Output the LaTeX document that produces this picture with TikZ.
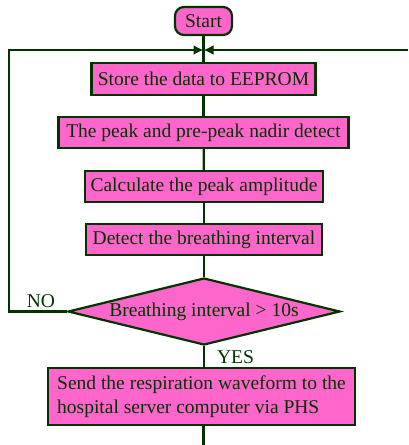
\documentclass[tikz,border=0pt]{standalone}
\usepackage{fontspec}
\setmainfont{Liberation Serif}
\usetikzlibrary{arrows.meta, shapes.geometric}
\definecolor{flowpink}{RGB}{255,102,204}
\definecolor{flowgreen}{RGB}{0,51,0}

\begin{document}
\begin{tikzpicture}[x=1pt, y=1pt,
        every node/.style={font=\fontsize{19.5}{24}\selectfont, text=flowgreen},
        procbox/.style={draw=flowgreen, fill=flowpink, line width=2.2pt, inner sep=0pt, minimum height=31},
        flowline/.style={draw=flowgreen, line width=2.2pt},
        flowarrow/.style={-{Latex[length=10pt, width=10pt]}}]

        \useasboundingbox (0,0) rectangle (408,-445);

        \node[procbox, rounded corners=9pt, minimum width=57, minimum height=28] (start) at (203.5,-21) {Start};
        \node[procbox, minimum width=224, minimum height=32] (store) at (203.5,-79) {Store the data to EEPROM};
        \node[procbox, minimum width=290] (peak) at (203.5,-132.5) {The peak and pre-peak nadir detect};
        \node[procbox, minimum width=238] (calc) at (204,-186.5) {Calculate the peak amplitude};
        \node[procbox, minimum width=236] (detect) at (204,-239.5) {Detect the breathing interval};
        \node[procbox, diamond, shape aspect=4, minimum width=272, minimum height=67] (check) at (204,-311.5) {Breathing interval > 10s};
        \node[procbox, minimum width=307, minimum height=57, align=left] (send) at (201.5,-396.5) {Send the respiration waveform to the\\hospital server computer via PHS};

        \coordinate (join) at (203.5,-50);
        \coordinate (loopl) at (9,-50);
        \coordinate (loopr) at (408,-50);
        \coordinate (bottom) at (203.5,-445);

        \draw[flowline] (start) -- (store);
        \draw[flowline] (store) -- (peak);
        \draw[flowline] (peak) -- (calc);
        \draw[flowline] (calc) -- (detect);
        \draw[flowline] (detect.south -| check.north) -- (check.north);
        \draw[flowline] (check.south) -- (check.south |- send.north);
        \draw[flowline] (send.south -| bottom) -- (bottom);

        \draw[flowline, flowarrow] (check.west) -| (loopl) -- (join);
        \draw[flowline, flowarrow] (loopr) -- (join);

        \node (no) at (41,-301) {NO};
        \node (yes) at (235.5,-357) {YES};
    \end{tikzpicture}
\end{document}
